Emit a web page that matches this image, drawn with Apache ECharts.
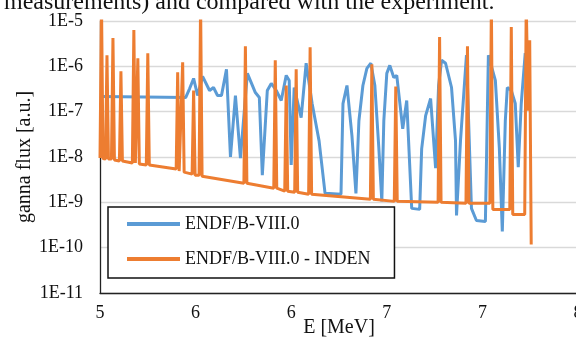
<!DOCTYPE html>
<html><head><meta charset="utf-8">
<script src="https://cdn.jsdelivr.net/npm/echarts@6/dist/echarts.min.js"></script>
<style>html,body{margin:0;padding:0;background:#fff;}#c{width:576px;height:338px;}</style>
</head><body><div id="c"></div>
<script>
const seriesNames = ['ENDF/B-VIII.0', 'ENDF/B-VIII.0 - INDEN'];
const xTickValues = [5, 5.6, 6.2, 6.8, 7.4, 8];
const headerText = 'measurements) and compared with the experiment.';

const blueE = [5.0063,5.5375,5.5625,5.5875,5.6125,5.6438,5.6875,5.7125,5.7375,5.7625,5.7938,5.8188,5.85,5.8813,5.925,5.975,6.0,6.0188,6.05,6.075,6.1063,6.1375,6.1688,6.1875,6.2,6.2188,6.2625,6.2938,6.3313,6.375,6.4125,6.5125,6.525,6.55,6.5813,6.6063,6.625,6.65,6.675,6.7,6.725,6.75,6.7688,6.7813,6.8,6.8188,6.8438,6.8625,6.9,6.925,6.9563,7.0063,7.0188,7.0438,7.075,7.1063,7.125,7.1438,7.1688,7.2063,7.2313,7.2375,7.2625,7.3,7.3313,7.3625,7.4188,7.4375,7.4813,7.5063,7.525,7.5438,7.5563,7.5813,7.6063,7.625,7.6438,7.6688];
const blueFlux = [2.15e-7,2.05e-7,3.24e-7,5.41e-7,2.27e-7,5.99e-7,2.93e-7,3.41e-7,2.27e-7,2.27e-7,8.58e-7,1.0e-8,2.27e-7,9.5e-9,6.99e-7,2.64e-7,2.05e-7,3.98e-9,2.93e-7,4.19e-7,2.93e-7,1.76e-7,6.31e-7,4.89e-7,6.64e-9,3.41e-7,7.36e-8,1.17e-6,1.51e-7,2.27e-8,1.58e-9,1.51e-9,1.51e-7,3.78e-7,2.93e-8,1.58e-9,6.31e-8,3.78e-7,9.03e-7,1.17e-6,3.78e-7,1.58e-8,1.05e-9,6.31e-8,6.99e-7,1.05e-6,5.69e-7,6.31e-7,4.19e-8,1.76e-7,7.36e-10,6.99e-10,1.51e-8,8.15e-8,1.95e-7,5.69e-9,3.78e-7,1.36e-6,1.17e-6,3.41e-7,2.27e-8,5.14e-10,2.27e-8,1.76e-6,7.36e-10,3.98e-10,3.78e-10,1.76e-6,4.89e-7,1.58e-8,2.27e-10,6.31e-8,3.41e-7,2.93e-7,1.51e-7,5.99e-9,1.51e-7,1.95e-6];

const orangeE = [5.0,5.0094,5.0188,5.0344,5.0438,5.0531,5.0719,5.0813,5.0906,5.1219,5.1313,5.1406,5.2031,5.2125,5.2219,5.2281,5.2375,5.2469,5.2906,5.3,5.3094,5.4781,5.4875,5.4969,5.5094,5.5188,5.5281,5.5781,5.5875,5.5969,5.6219,5.6313,5.6406,5.9031,5.9125,5.9219,6.0906,6.1,6.1094,6.1594,6.1688,6.1781,6.2219,6.2313,6.2406,6.3094,6.3188,6.3281,6.6969,6.7063,6.7156,6.8469,6.8563,6.8656,7.1219,7.1313,7.1406,7.2969,7.3063,7.3156,7.4469,7.4563,7.4656,7.5719,7.5813,7.5906,7.6656,7.675,7.6875,7.6969,7.7063];
const orangeFlux = [9.5e-9,2.5e-5,9.26e-9,9.03e-9,1.76e-6,9.03e-9,9.03e-9,4.19e-6,8.58e-9,8.15e-9,7.74e-7,8.15e-9,7.36e-9,6.31e-6,7.36e-9,7.36e-9,1.51e-6,6.99e-9,6.64e-9,1.95e-6,6.64e-9,5.41e-9,7.36e-7,4.89e-9,4.89e-9,1.23e-6,4.64e-9,4.19e-9,2.93e-7,3.98e-9,3.98e-9,2.5e-5,3.78e-9,2.64e-9,2.78e-6,2.64e-9,2.05e-9,1.36e-6,2.05e-9,1.76e-9,3.78e-7,1.76e-9,1.67e-9,8.58e-7,1.67e-9,1.51e-9,2.64e-6,1.51e-9,1.17e-9,1.11e-6,1.17e-9,1.05e-9,3.59e-7,1.05e-9,1.0e-9,4.41e-6,1.0e-9,9.5e-10,2.78e-6,9.5e-10,9.5e-10,2.5e-5,6.99e-10,6.99e-10,7.36e-6,5.41e-10,5.41e-10,2.5e-5,1.05e-7,3.78e-6,1.17e-10];

const FONT = '"Liberation Serif", "Times New Roman", serif';
const pairs = (xs, ys) => xs.map((x, i) => [x, ys[i]]);

const chart = echarts.init(document.getElementById('c'), null, {renderer: 'canvas'});
chart.setOption({
  animation: false,
  backgroundColor: '#fff',
  graphic: [{
    type: 'text', left: 4, top: -9,
    style: {text: headerText, font: '24px ' + FONT, fill: '#111'}
  }],
  grid: {left: 100, top: 21, height: 272, width: 478, containLabel: false, outerBoundsMode: 'none'},
  xAxis: {
    type: 'value', min: 5, max: 8,
    name: 'E [MeV]', nameLocation: 'middle', nameGap: 25, nameMoveOverlap: false,
    nameTextStyle: {fontFamily: FONT, fontSize: 20, color: '#111'},
    axisLine: {show: true, onZero: false, lineStyle: {color: '#222', width: 1.3}},
    axisTick: {show: false},
    splitLine: {show: false},
    axisLabel: {
      customValues: xTickValues, margin: 11, showMaxLabel: true, hideOverlap: false,
      fontFamily: FONT, fontSize: 18, color: '#111',
      formatter: v => String(Math.round(v))
    }
  },
  yAxis: {
    type: 'log', logBase: 10, min: 1e-11, max: 1e-5,
    name: 'ganna flux [a.u.]', nameLocation: 'middle', nameGap: 65, nameMoveOverlap: false,
    nameTextStyle: {fontFamily: FONT, fontSize: 20, color: '#111'},
    axisLine: {show: true, lineStyle: {color: '#222', width: 1.3}},
    axisTick: {show: false},
    splitLine: {show: true, lineStyle: {color: '#d9d9d9', width: 1.3}},
    axisLabel: {
      margin: 17, fontFamily: FONT, fontSize: 18, color: '#111',
      formatter: v => '1E' + Math.round(Math.log10(v))
    }
  },
  legend: {
    orient: 'vertical', left: 108, top: 207,
    padding: [8, 24, 10, 19], itemGap: 17,
    itemWidth: 53, itemHeight: 4, icon: 'rect',
    borderColor: '#111', borderWidth: 1.5, backgroundColor: '#fff',
    textStyle: {fontFamily: FONT, fontSize: 18, color: '#111', lineHeight: 18},
    data: seriesNames
  },
  series: [
    {name: seriesNames[0], type: 'line', data: pairs(blueE, blueFlux), showSymbol: false,
     lineStyle: {color: '#5B9BD5', width: 3}, itemStyle: {color: '#5B9BD5'}, clip: true},
    {name: seriesNames[1], type: 'line', data: pairs(orangeE, orangeFlux), showSymbol: false,
     lineStyle: {color: '#ED7D31', width: 3}, itemStyle: {color: '#ED7D31'}, clip: true}
  ]
});
</script></body></html>
